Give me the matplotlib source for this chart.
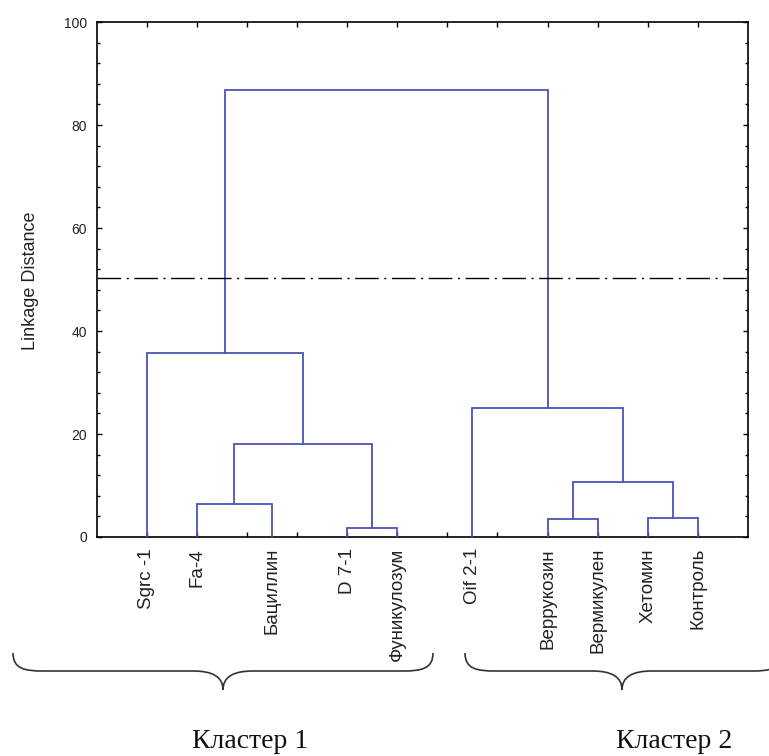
import matplotlib
matplotlib.use("Agg")
import matplotlib.pyplot as plt
from matplotlib.path import Path
from matplotlib.patches import PathPatch
from matplotlib.transforms import Affine2D
from matplotlib.ticker import MultipleLocator

# ---- data ----
leaf_labels = ["Sgrc -1", "Fa-4", "Бациллин", "D 7-1", "Фуникулозум",
               "Oif 2-1", "Веррукозин", "Вермикулен", "Хетомин", "Контроль"]
leaf_x = [0, 1, 2.5, 4, 5, 6.5, 8, 9, 10, 11]
# merges: (left node, right node, linkage distance); new node ids start at 10
merges = [
    (3, 4, 1.7),
    (6, 7, 3.5),
    (8, 9, 3.7),
    (1, 2, 6.4),
    (11, 12, 10.7),
    (13, 10, 18.1),
    (5, 14, 25.0),
    (0, 15, 35.7),
    (17, 16, 86.8),
]
cut_distance = 50.3
cluster_names = ["Кластер 1", "Кластер 2"]
y_label = "Linkage Distance"

W, H = 769, 756
fig = plt.figure(figsize=(W / 100, H / 100), dpi=100)
ax = fig.add_axes([96.7 / W, 1 - 537 / H, (748 - 96.7) / W, (537 - 22) / H])

line_color = "#4b55b5"
node_x = list(leaf_x)
node_h = [0.0] * len(leaf_x)
for a, b, h in merges:
    xa, ha = node_x[a], node_h[a]
    xb, hb = node_x[b], node_h[b]
    ax.plot([xa, xa, xb, xb], [ha, h, h, hb], color=line_color, lw=1.3,
            solid_joinstyle="miter", zorder=3)
    node_x.append((xa + xb) / 2)
    node_h.append(h)

ax.axhline(cut_distance, color="black", lw=1.0, dashes=(17, 4, 1.5, 4), zorder=4)

ax.set_xlim(-1, 12)
ax.set_ylim(0, 100)
ax.set_xticks(range(12))
ax.set_xticklabels([])
ax.yaxis.set_major_locator(MultipleLocator(20))
ax.yaxis.set_minor_locator(MultipleLocator(4))
ax.tick_params(axis="both", which="both", direction="in", top=True, right=True,
               width=1.0, color="black")
ax.tick_params(axis="both", which="major", length=3.5)
ax.tick_params(axis="both", which="minor", length=2.5)
ax.tick_params(axis="y", which="major", pad=7, labelsize=10)
for lab in ax.get_yticklabels():
    lab.set_fontfamily("Liberation Sans")
    lab.set_color("#222222")
for s in ax.spines.values():
    s.set_linewidth(1.2)

ax.set_ylabel(y_label, fontsize=13, family="Liberation Sans", color="#222222")
ax.yaxis.set_label_coords(-(96.7 - 39) / (748 - 96.7), 1 - (281 - 22) / 515)

for x, lab in zip(leaf_x, leaf_labels):
    ax.annotate(lab, xy=(x, 0), xycoords=("data", "axes fraction"),
                xytext=(0, -8), textcoords="offset points", rotation=90,
                ha="center", va="top", fontsize=13.5, family="Liberation Sans",
                color="#222222")

# ---- braces (figure pixel coords, y downward) ----
pix = Affine2D().scale(1 / W, -1 / H).translate(0, 1) + fig.transFigure


def brace(x0, x1, xt, ytop, yline, ytip):
    r = 30
    verts = [(x0, ytop), (x0, yline - 2), (x0 + 12, yline), (x0 + r, yline),
             (xt - r, yline),
             (xt - 10, yline), (xt, yline + 6), (xt, ytip),
             (xt, yline + 6), (xt + 10, yline), (xt + r, yline),
             (x1 - r, yline),
             (x1 - 12, yline), (x1, yline - 2), (x1, ytop)]
    codes = [Path.MOVETO, Path.CURVE4, Path.CURVE4, Path.CURVE4,
             Path.LINETO,
             Path.CURVE4, Path.CURVE4, Path.CURVE4,
             Path.CURVE4, Path.CURVE4, Path.CURVE4,
             Path.LINETO,
             Path.CURVE4, Path.CURVE4, Path.CURVE4]
    p = PathPatch(Path(verts, codes), facecolor="none", edgecolor="#333333",
                  lw=1.2, transform=pix)
    fig.add_artist(p)


brace(13, 433, 223, 653, 671, 690)
brace(465, 782, 622, 653, 671, 690)

fig.text(250 / W, 1 - 742 / H, cluster_names[0], ha="center", va="center",
         fontsize=20, family="Liberation Serif", color="#111111")
fig.text(674 / W, 1 - 742 / H, cluster_names[1], ha="center", va="center",
         fontsize=20, family="Liberation Serif", color="#111111")

fig.savefig("out.png", dpi=100)
